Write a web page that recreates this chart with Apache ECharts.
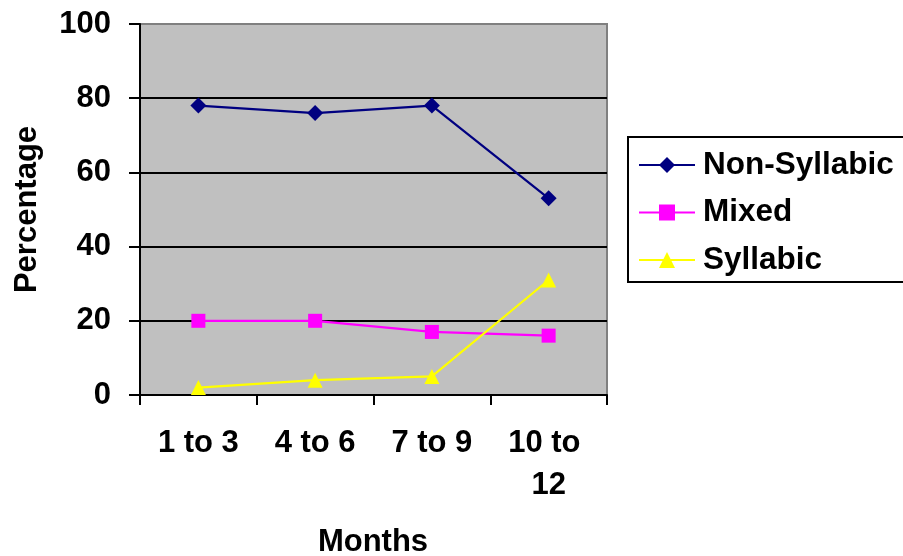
<!DOCTYPE html>
<html>
<head>
<meta charset="utf-8">
<script src="https://cdn.jsdelivr.net/npm/echarts@6/dist/echarts.min.js"></script>
<style>html,body{margin:0;padding:0;background:#fff;}#c{width:903px;height:556px;}</style>
</head>
<body>
<div id="c"></div>
<script>
const categories = ['1 to 3', '4 to 6', '7 to 9', '10 to 12'];
const nonSyllabic = [78, 76, 78, 53];
const mixed = [20, 20, 17, 16];
const syllabic = [2, 4, 5, 31];
const yTicks = [0, 20, 40, 60, 80, 100];
const seriesNames = ['Non-Syllabic', 'Mixed', 'Syllabic'];

const FONT = '"Liberation Sans", Arial, sans-serif';
const chart = echarts.init(document.getElementById('c'), null, {renderer: 'canvas'});
chart.setOption({
  animation: false,
  backgroundColor: '#ffffff',
  grid: {
    left: 140, right: 296, top: 24, bottom: 161,
    show: true, backgroundColor: '#c0c0c0', borderColor: '#808080', borderWidth: 2,
    outerBoundsMode: 'none', containLabel: false
  },
  legend: {
    left: 628, top: 137, orient: 'vertical',
    padding: [12, 16, 6, 10],
    itemWidth: 56, itemHeight: 20, itemGap: 15.5,
    borderColor: '#000', borderWidth: 2,
    textStyle: {fontFamily: FONT, fontWeight: 'bold', fontSize: 31.5, color: '#000', padding: [0,0,0,3]},
    data: seriesNames
  },
  xAxis: {
    type: 'category', data: categories, boundaryGap: true,
    axisLine: {lineStyle: {color: '#000', width: 2}},
    axisTick: {show: true, length: 10, inside: false, alignWithLabel: false, lineStyle: {color: '#000', width: 2}},
    axisLabel: {
      margin: 27, fontFamily: FONT, fontWeight: 'bold', fontSize: 31, color: '#000',
      lineHeight: 42, width: 100, overflow: 'break', interval: 0
    },
    splitLine: {show: false}
  },
  yAxis: {
    type: 'value', min: yTicks[0], max: yTicks[yTicks.length - 1], interval: 20,
    name: 'Percentage', nameLocation: 'middle', nameGap: 97,
    nameTextStyle: {fontFamily: FONT, fontWeight: 'bold', fontSize: 31, color: '#000'},
    axisLine: {show: true, lineStyle: {color: '#000', width: 2}},
    axisTick: {show: true, length: 11, lineStyle: {color: '#000', width: 2}},
    axisLabel: {margin: 29, fontFamily: FONT, fontWeight: 'bold', fontSize: 31, color: '#000'},
    splitLine: {show: true, lineStyle: {color: ['#000', '#000', '#000', '#000', '#000', '#808080'], width: 2}}
  },
  graphic: [{
    type: 'text', x: 373, y: 542,
    style: {text: 'Months', align: 'center', verticalAlign: 'middle', font: 'bold 31px ' + FONT, fill: '#000'}
  }],
  series: [
    {name: seriesNames[0], type: 'line', data: nonSyllabic, symbol: 'diamond', symbolSize: 16,
     lineStyle: {color: '#000080', width: 2.2}, itemStyle: {color: '#000080'}},
    {name: seriesNames[1], type: 'line', data: mixed, symbol: 'rect', symbolSize: 14,
     lineStyle: {color: '#ff00ff', width: 2.2}, itemStyle: {color: '#ff00ff'}},
    {name: seriesNames[2], type: 'line', data: syllabic, symbol: 'triangle', symbolSize: 15,
     lineStyle: {color: '#ffff00', width: 2.2}, itemStyle: {color: '#ffff00'}}
  ]
});
</script>
</body>
</html>
